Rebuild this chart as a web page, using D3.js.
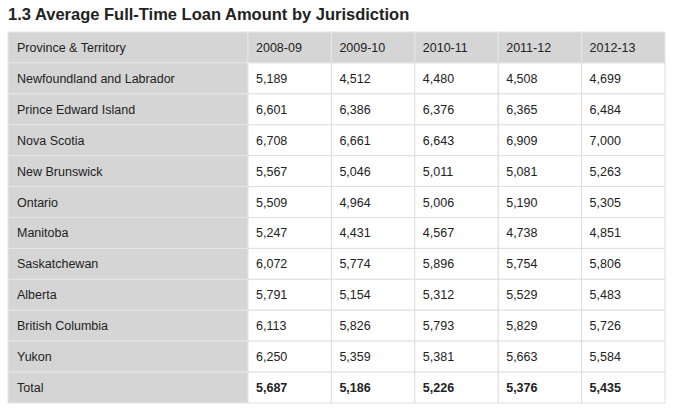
<!DOCTYPE html>
<html><head><meta charset="utf-8">
<script src="https://cdn.jsdelivr.net/npm/d3@7"></script>
<style>body{margin:0;background:#fff;}</style>
</head><body><div id="chart"></div>
<script>
const title = "1.3 Average Full-Time Loan Amount by Jurisdiction";
const headerLabel = "Province & Territory";
const years = ["2008-09", "2009-10", "2010-11", "2011-12", "2012-13"];
const provinces = ["Newfoundland and Labrador", "Prince Edward Island", "Nova Scotia", "New Brunswick",
  "Ontario", "Manitoba", "Saskatchewan", "Alberta", "British Columbia", "Yukon", "Total"];
const values = [
  [5189, 4512, 4480, 4508, 4699],
  [6601, 6386, 6376, 6365, 6484],
  [6708, 6661, 6643, 6909, 7000],
  [5567, 5046, 5011, 5081, 5263],
  [5509, 4964, 5006, 5190, 5305],
  [5247, 4431, 4567, 4738, 4851],
  [6072, 5774, 5896, 5754, 5806],
  [5791, 5154, 5312, 5529, 5483],
  [6113, 5826, 5793, 5829, 5726],
  [6250, 5359, 5381, 5663, 5584],
  [5687, 5186, 5226, 5376, 5435]
];

const width = 675, height = 412;
const svg = d3.select("#chart").append("svg").attr("width", width).attr("height", height)
  .style("font-family", "Helvetica, Arial, 'Liberation Sans', sans-serif");

svg.append("text").attr("x", 8).attr("y", 20)
  .attr("font-size", 16.5).attr("font-weight", "bold").attr("fill", "#222").text(title);

const rows = ["header"].concat(provinces);
const y = d3.scaleBand().domain(d3.range(rows.length)).range([32, 403]);
const colX = d3.scaleBand().domain(d3.range(years.length)).range([248, 665]);
const left = 8, fmt = d3.format(",");

const g = svg.append("g");
rows.forEach((r, i) => {
  // first column cell
  g.append("rect").attr("x", left).attr("y", y(i)).attr("width", 248 - left).attr("height", y.bandwidth())
    .attr("fill", "#d5d5d5").attr("stroke", "#e6e6e6");
  g.append("text").attr("x", left + 9).attr("y", y(i) + y.bandwidth() / 2 + 4.5)
    .attr("font-size", 12.5).attr("fill", "#222")
    .text(i === 0 ? headerLabel : r);
  years.forEach((yr, j) => {
    g.append("rect").attr("x", colX(j)).attr("y", y(i)).attr("width", colX.bandwidth()).attr("height", y.bandwidth())
      .attr("fill", i === 0 ? "#d5d5d5" : "#fff").attr("stroke", i === 0 ? "#e6e6e6" : "#dedede");
    g.append("text").attr("x", colX(j) + 8).attr("y", y(i) + y.bandwidth() / 2 + 4.5)
      .attr("font-size", 12.5).attr("fill", "#222")
      .attr("font-weight", i === rows.length - 1 ? "bold" : "normal")
      .text(i === 0 ? yr : fmt(values[i - 1][j]));
  });
});
</script></body></html>
